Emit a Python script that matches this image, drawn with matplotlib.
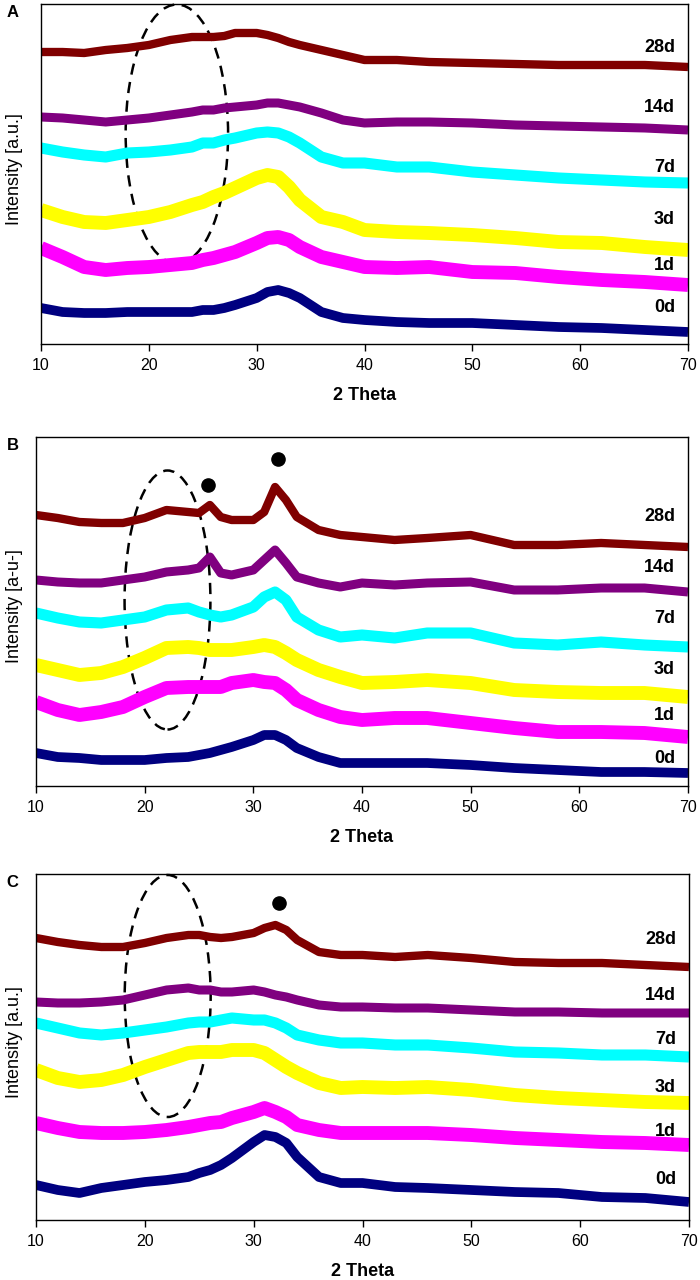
import numpy as np
import matplotlib.pyplot as plt
from matplotlib.patches import Ellipse

plt.rcParams['font.family'] = ['Liberation Sans', 'DejaVu Sans']

# 2 theta positions where the traces were read
two_theta = [10, 12, 14, 16, 18, 20, 22, 24, 25, 26, 27, 28, 30, 31, 32, 33, 34,
             36, 38, 40, 43, 46, 50, 54, 58, 62, 66, 70]
ages = ['28d', '14d', '7d', '3d', '1d', '0d']
colours = ['#800000', '#800080', '#00ffff', '#ffff00', '#ff00ff', '#000080']
band = [6.0, 6.5, 8.0, 10.0, 10.0, 7.0]

# panel A (intensity, stacked, a.u.)
a_28d = [292, 292, 291, 294, 296, 299, 304, 307, 307, 307, 308, 311, 311, 309, 306, 302, 299,
         294, 289, 284, 284, 282, 281, 280, 279, 279, 279, 277]
a_14d = [227, 226, 224, 222, 224, 226, 229, 232, 234, 234, 236, 237, 239, 241, 241, 239, 237,
         231, 224, 221, 222, 222, 221, 219, 218, 217, 216, 214]
a_7d = [196, 192, 189, 187, 191, 192, 194, 197, 201, 201, 204, 206, 211, 212, 211, 207, 201,
        187, 181, 181, 177, 177, 172, 169, 166, 164, 162, 161]
a_3d = [134, 127, 122, 121, 124, 127, 132, 139, 142, 147, 151, 156, 166, 169, 167, 157, 144,
        127, 122, 114, 112, 111, 109, 106, 102, 101, 97, 94]
a_1d = [96, 87, 77, 74, 76, 77, 79, 81, 84, 86, 89, 92, 101, 106, 107, 104, 97,
        87, 82, 77, 76, 77, 72, 71, 67, 64, 62, 59]
a_0d = [36, 32, 31, 31, 32, 32, 32, 32, 34, 34, 36, 39, 46, 52, 54, 51, 46,
        32, 26, 24, 22, 21, 21, 19, 17, 16, 14, 12]

# panel B
b_28d = [271, 268, 264, 263, 263, 268, 276, 274, 273, 281, 269, 266, 266, 274, 299, 286, 269,
         256, 251, 249, 246, 248, 251, 241, 241, 243, 241, 239]
b_14d = [206, 204, 203, 203, 206, 209, 214, 216, 218, 229, 213, 211, 216, 226, 236, 223, 209,
         203, 199, 203, 201, 203, 204, 196, 196, 198, 198, 194]
b_7d = [173, 168, 164, 163, 166, 169, 176, 178, 174, 171, 169, 171, 179, 189, 194, 186, 169,
        156, 149, 151, 148, 153, 153, 143, 141, 144, 141, 139]
b_3d = [121, 116, 111, 113, 119, 128, 138, 139, 138, 136, 136, 136, 139, 141, 139, 133, 126,
        116, 109, 103, 104, 106, 103, 96, 94, 93, 93, 89]
b_1d = [84, 76, 71, 74, 79, 89, 98, 99, 99, 99, 99, 103, 106, 104, 103, 96, 86,
        76, 69, 66, 68, 68, 63, 58, 54, 54, 53, 49]
b_0d = [33, 29, 28, 26, 26, 26, 28, 29, 31, 33, 36, 39, 46, 51, 51, 46, 38,
        29, 23, 23, 23, 23, 21, 18, 16, 14, 14, 13]

# panel C
c_28d = [282, 278, 275, 273, 273, 277, 282, 285, 285, 283, 282, 283, 287, 292, 295, 290, 280,
         268, 265, 265, 263, 265, 262, 258, 257, 257, 255, 253]
c_14d = [218, 217, 217, 218, 220, 225, 230, 232, 230, 230, 228, 228, 230, 228, 225, 223, 220,
         215, 213, 213, 212, 212, 210, 208, 208, 207, 207, 207]
c_7d = [197, 192, 187, 185, 187, 190, 193, 197, 198, 198, 200, 202, 200, 200, 197, 192, 185,
        180, 177, 177, 175, 175, 172, 168, 167, 165, 165, 163]
c_3d = [150, 142, 138, 140, 145, 153, 160, 167, 168, 168, 168, 170, 170, 167, 160, 153, 147,
        137, 132, 133, 132, 133, 130, 125, 122, 120, 118, 117]
c_1d = [97, 92, 88, 87, 87, 88, 90, 93, 95, 97, 98, 102, 108, 112, 108, 103, 95,
        90, 87, 87, 87, 87, 85, 82, 80, 78, 77, 75]
c_0d = [35, 30, 27, 32, 35, 38, 40, 43, 47, 50, 55, 62, 78, 85, 83, 77, 63,
        43, 37, 37, 33, 32, 30, 28, 27, 23, 22, 18]

# crystalline peak markers (2 theta, intensity)
b_peaks_x = [25.8, 32.3]
b_peaks_y = [301, 327]
c_peaks_x = [32.3]
c_peaks_y = [317]

panels = [
    dict(letter='A', ylabel='Intensity [a.u.]', rect=[41/700, 1-344/1280, 647/700, 340/1280],
         ytop=340, series=[a_28d, a_14d, a_7d, a_3d, a_1d, a_0d],
         label_y=[296, 236, 176, 124, 79, 36], ell=(22.6, 210, 9.5, 259),
         px=[], py=[]),
    dict(letter='B', ylabel='Intensity [a-u-]', rect=[36/700, 1-786/1280, 652/700, 349/1280],
         ytop=349, series=[b_28d, b_14d, b_7d, b_3d, b_1d, b_0d],
         label_y=[269, 218, 167, 116, 70, 27], ell=(22.1, 186, 7.9, 259),
         px=b_peaks_x, py=b_peaks_y),
    dict(letter='C', ylabel='Intensity [a.u.]', rect=[36/700, 1-1220/1280, 653/700, 346/1280],
         ytop=346, series=[c_28d, c_14d, c_7d, c_3d, c_1d, c_0d],
         label_y=[280, 225, 181, 133, 89, 41], ell=(22.1, 224, 7.9, 242),
         px=c_peaks_x, py=c_peaks_y),
]

fig = plt.figure(figsize=(7, 12.8), dpi=100)

for p in panels:
    ax = fig.add_axes(p['rect'])
    for vals, col, lw in zip(p['series'], colours, band):
        ax.plot(two_theta, vals, color=col, lw=lw, solid_capstyle='butt',
                solid_joinstyle='round')
    for lab, ly in zip(ages, p['label_y']):
        ax.text(68.8, ly, lab, ha='right', va='center', fontsize=13, fontweight='bold')
    if p['px']:
        ax.plot(p['px'], p['py'], 'o', color='black', markersize=9.5)
    cx, cy, w, h = p['ell']
    ax.add_patch(Ellipse((cx, cy), w, h, fill=False, edgecolor='black', lw=1.8,
                         linestyle=(0, (4.5, 3)), clip_on=False))
    ax.set_xlim(10, 70)
    ax.set_ylim(0, p['ytop'])
    ax.set_xticks([10, 20, 30, 40, 50, 60, 70])
    ax.set_yticks([])
    ax.tick_params(axis='x', direction='out', length=5, width=1, labelsize=11.5, pad=5)
    for s in ax.spines.values():
        s.set_linewidth(1.0)
    ax.set_xlabel('2 Theta', fontsize=13, fontweight='bold', labelpad=10)
    r = p['rect']
    fig.text(0.021, r[1] + r[3] / 2 + 0.004, p['ylabel'], rotation=90, ha='center',
             va='center', fontsize=13)
    fig.text(0.018, r[1] + r[3] - 0.007, p['letter'], ha='center', va='center',
             fontsize=12, fontweight='bold')

fig.savefig('out.png', dpi=100)
